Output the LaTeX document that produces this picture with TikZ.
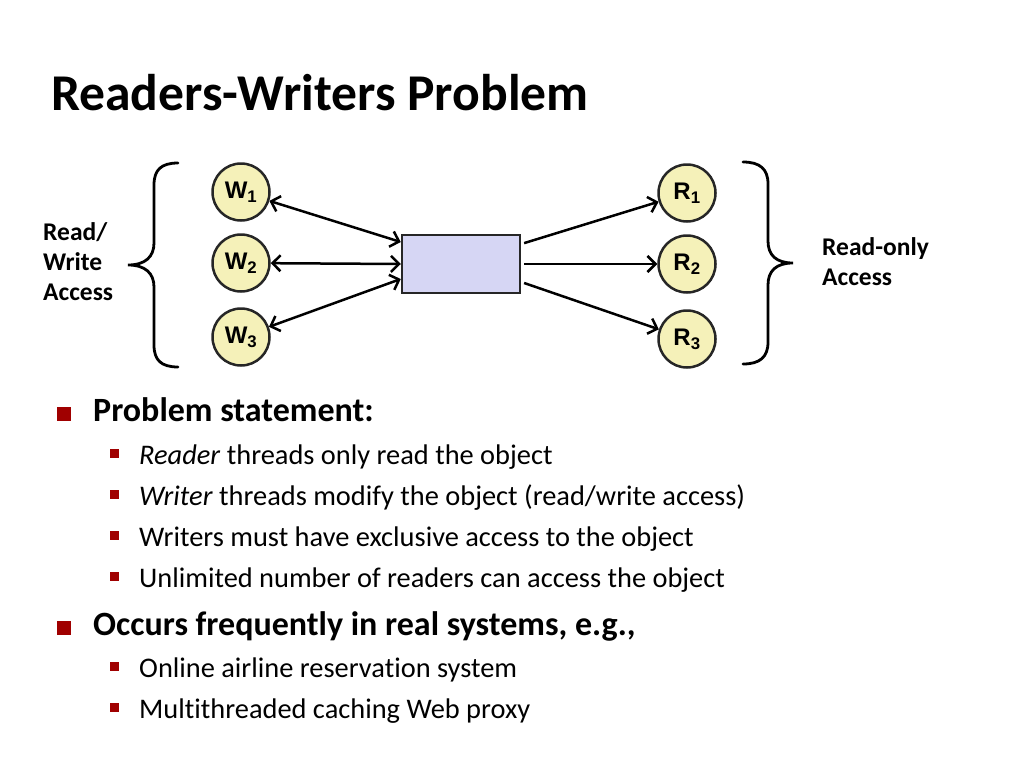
\documentclass[tikz,border=0pt]{standalone}
\usepackage{fontspec}
\setmainfont[Ligatures=NoCommon]{Carlito}
\newfontfamily\figfont{Liberation Sans}
\usetikzlibrary{positioning}
\usetikzlibrary{arrows.meta}

\definecolor{threadfill}{RGB}{245,241,185}
\definecolor{objfill}{RGB}{214,214,244}
\definecolor{bulletred}{RGB}{160,0,0}

\begin{document}
\begin{tikzpicture}[x=1pt,y=-1pt,
    thread/.style={circle,draw=black!85,line width=2.5pt,fill=threadfill,minimum size=57pt,inner sep=0pt,font=\figfont\bfseries\fontsize{24}{24}\selectfont},
    object/.style={draw=black!85,line width=2.5pt,fill=objfill,minimum width=118pt,minimum height=58pt},
    rw/.style={line width=2.5pt,{Straight Barb[length=8pt,width=16pt]}-{Straight Barb[length=8pt,width=16pt]}},
    ro/.style={line width=2.5pt,-{Straight Barb[length=8pt,width=16pt]},shorten <=3pt},
    curly/.style={line width=2.8pt,line cap=round},
    side/.style={align=left,inner sep=0pt,font=\bfseries\fontsize{25.5}{30}\selectfont},
    lvlone/.style={anchor=base west,inner sep=0pt,font=\bfseries\fontsize{34}{34}\selectfont},
    lvltwo/.style={anchor=base west,inner sep=0pt,font=\fontsize{28.4}{28.4}\selectfont},
    bigsq/.style={fill=bulletred,minimum size=14pt,inner sep=0pt,anchor=south west},
    smallsq/.style={fill=bulletred,minimum size=9pt,inner sep=0pt}]
    \useasboundingbox (0,0) rectangle (1024,768);

    % title
    \node[anchor=base west,inner sep=0pt,font=\bfseries\fontsize{51.6}{51.6}\selectfont] (title) at (51,110) {Readers-Writers Problem};

    % writers, object, readers
    \node[thread] (w1) at (241,192) {W\textsubscript{1}};
    \node[thread] (w2) at (241,263) {W\textsubscript{2}};
    \node[thread] (w3) at (241,337) {W\textsubscript{3}};
    \node[object] (obj) at (461,264) {};
    \node[thread] (r1) at (687,193) {R\textsubscript{1}};
    \node[thread] (r2) at (687,264) {R\textsubscript{2}};
    \node[thread] (r3) at (687,339) {R\textsubscript{3}};

    % arrows
    \draw[rw] (w1) -- ([yshift=22pt]obj.west);
    \draw[rw] (w2) -- (obj.west);
    \draw[rw] (w3) -- ([yshift=-15pt]obj.west);
    \draw[ro] ([yshift=20pt]obj.east) -- (r1);
    \draw[ro] (obj.east) -- (r2);
    \draw[ro] ([yshift=-18pt]obj.east) -- (r3);

    % braces
    \draw[curly] (178,163) .. controls (161,163) and (154,170) .. (154,185) -- (154,243)
        .. controls (154,257) and (145,265) .. (128,265)
        .. controls (145,265) and (154,273) .. (154,287) -- (154,345)
        .. controls (154,360) and (161,367) .. (178,367);
    \draw[curly] (743,162) .. controls (760,162) and (768,169) .. (768,184) -- (768,241)
        .. controls (768,255) and (776,263) .. (793,263)
        .. controls (776,263) and (768,271) .. (768,285) -- (768,342)
        .. controls (768,357) and (760,364) .. (743,364);
    \node[side,anchor=west] (rwlabel) at (43,262) {Read/\\Write\\Access};
    \node[side,anchor=west] (rolabel) at (822,262) {Read-only\\Access};

    % problem statement
    \node[lvlone] (p1) at (93,421) {Problem statement:};
    \node[bigsq] (b1) at (57,421) {};
    \node[lvltwo] (s1) at (139,464) {\textit{Reader} threads only read the object};
    \node[lvltwo] (s2) at (139,505) {\textit{Writer} threads modify the object (read/write access)};
    \node[lvltwo] (s3) at (139,546) {Writers must have exclusive access to the object};
    \node[lvltwo] (s4) at (139,587) {Unlimited number of readers can access the object};
    \foreach \i/\y in {1/464,2/505,3/546,4/587}
        \node[smallsq] (q\i) at (114,\y-11) {};

    % occurrences
    \node[lvlone] (p2) at (93,635) {Occurs frequently in real systems, e.g.,};
    \node[bigsq] (b2) at (57,635) {};
    \node[lvltwo] (s5) at (139,677) {Online airline reservation system};
    \node[lvltwo] (s6) at (139,718) {Multithreaded caching Web proxy};
    \foreach \i/\y in {5/677,6/718}
        \node[smallsq] (q\i) at (114,\y-11) {};
\end{tikzpicture}
\end{document}
